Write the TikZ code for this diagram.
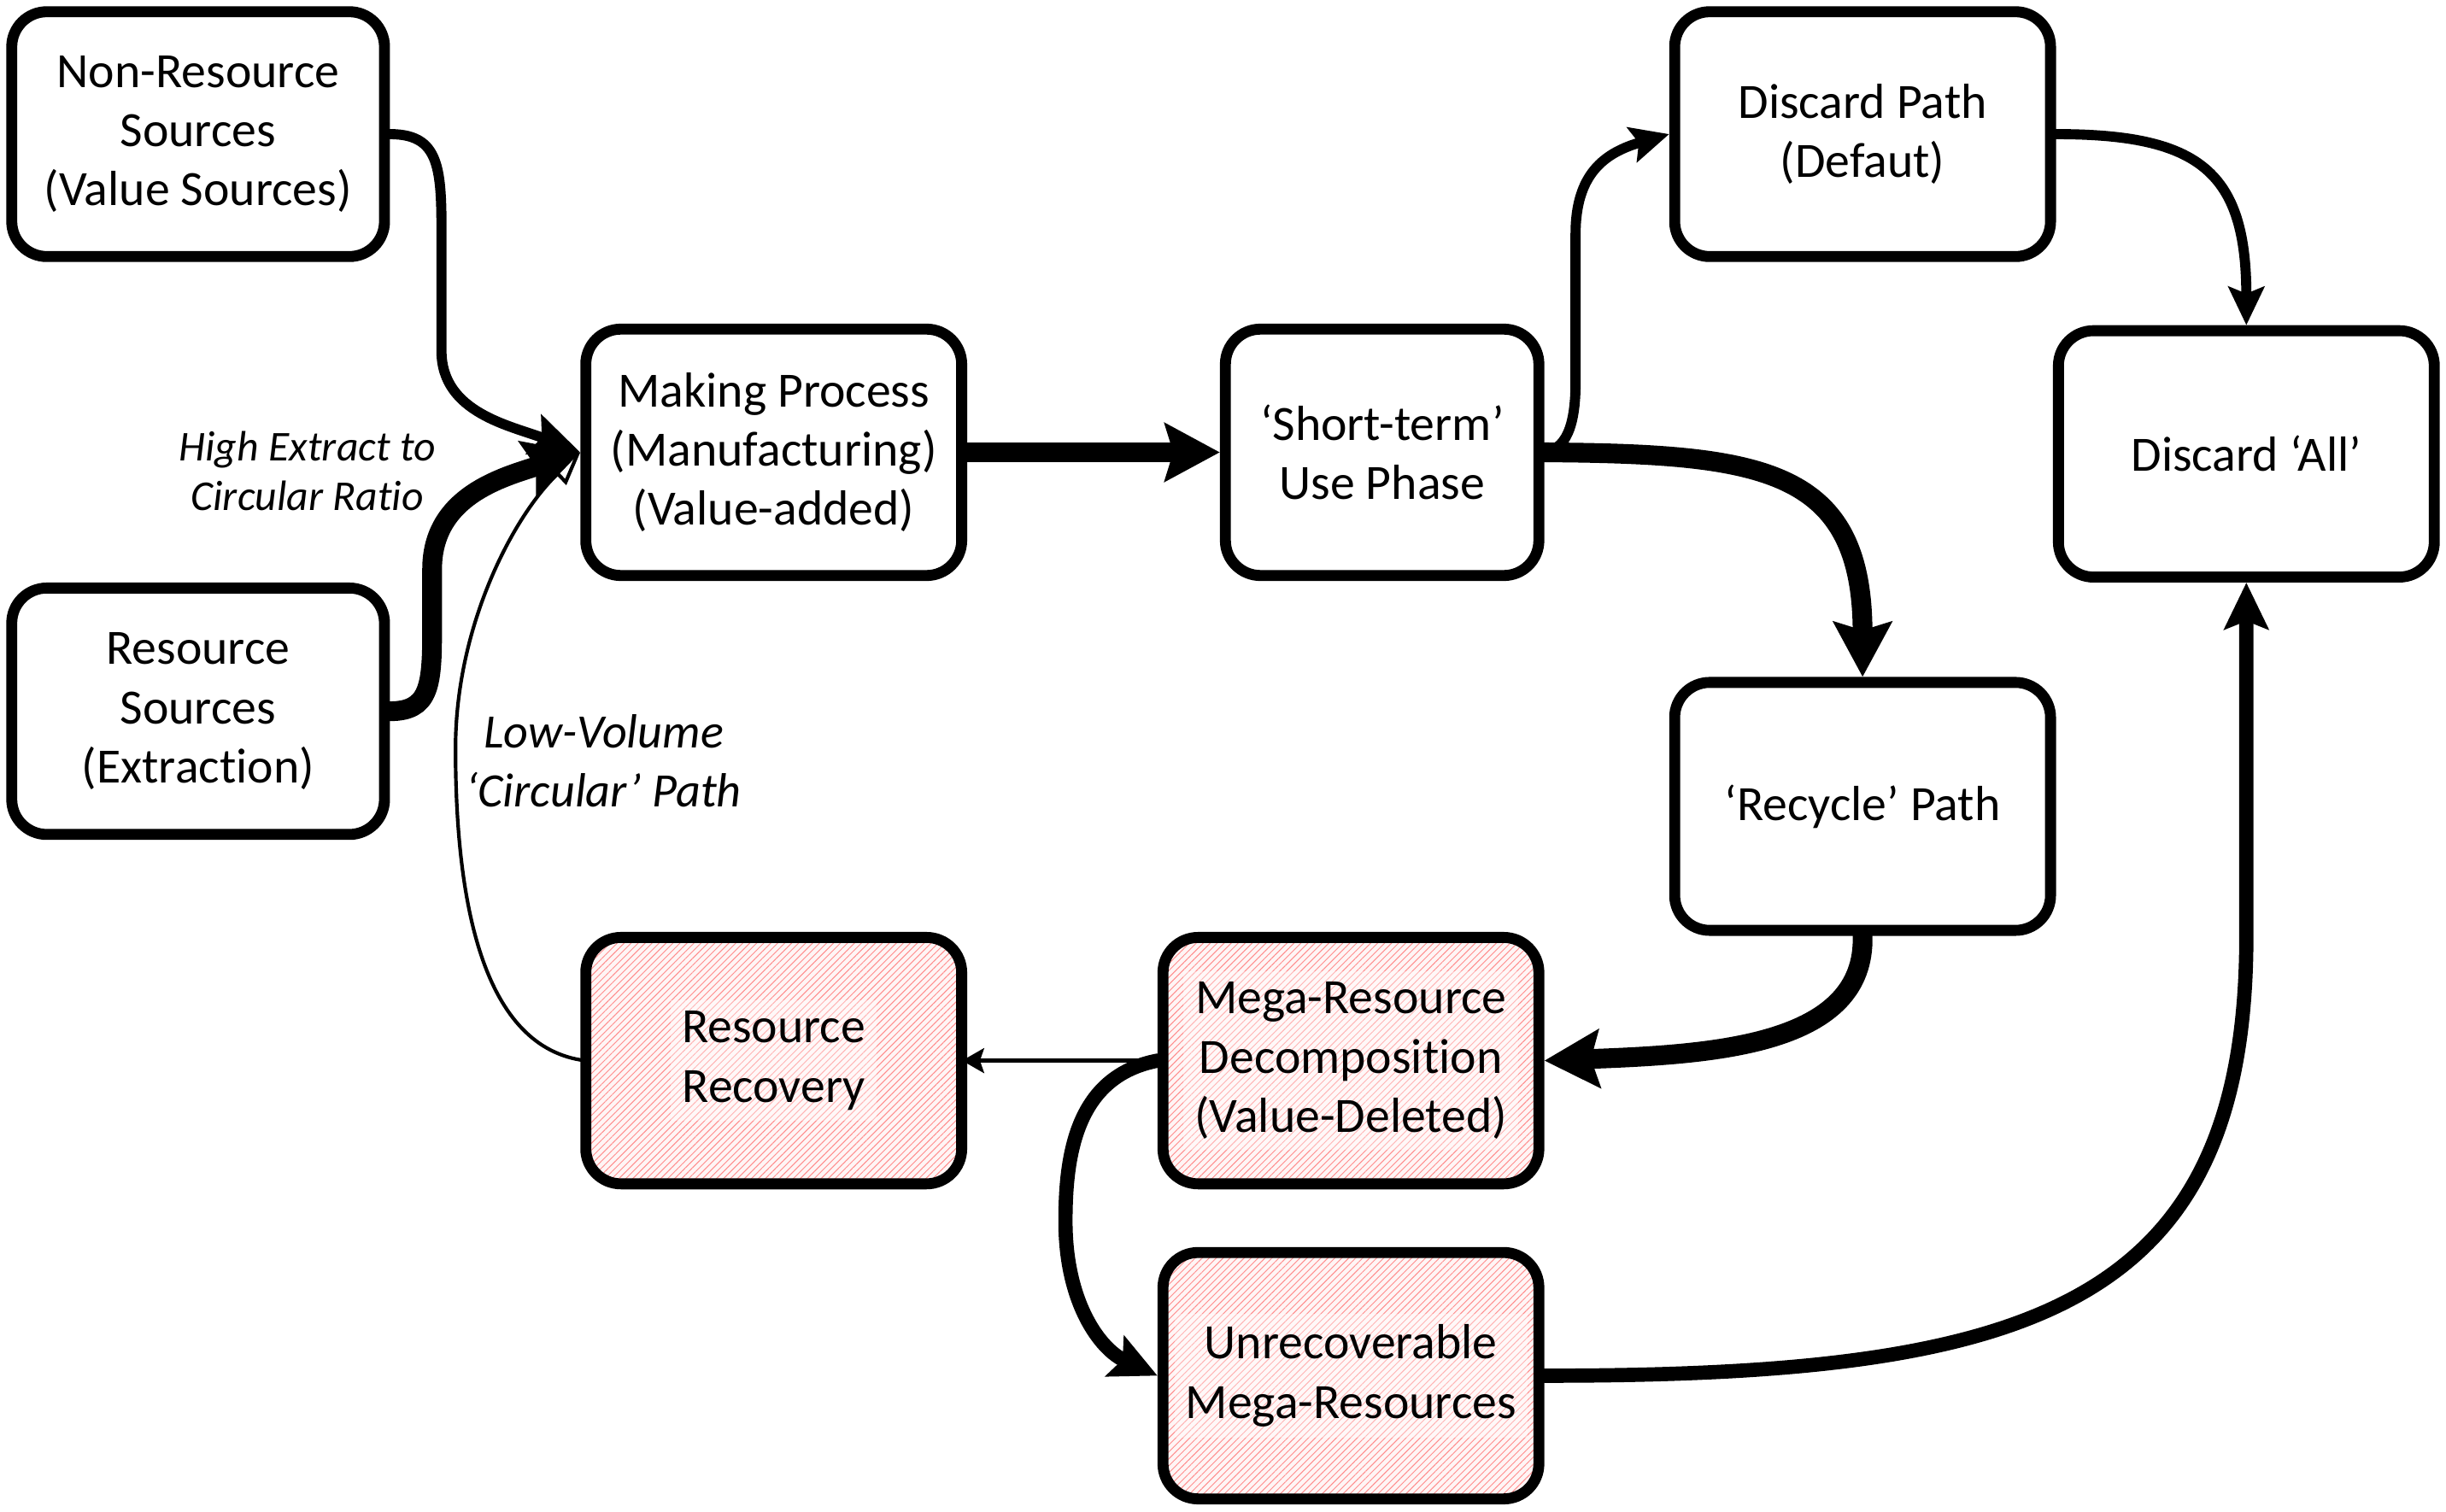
\documentclass[tikz,border=0pt]{standalone}
\usepackage{fontspec}
\setmainfont{Carlito}[Ligatures={NoCommon}]
\usetikzlibrary{arrows.meta,patterns.meta}
\begin{document}
\begin{tikzpicture}[x=0.02cm,y=-0.02cm,
  box/.style={draw=black, line width=4pt, rounded corners=0.45cm, align=center,
    inner sep=0pt, font=\fontsize{18}{21.6}\selectfont,
    minimum width=4.82cm, minimum height=3.16cm},
  hatchbox/.style={box, preaction={fill=red!4},
    pattern={Lines[angle=45,distance=1.8pt,line width=0.3pt]}, pattern color=red!45},
  hatchtext/.style={fill=white, fill opacity=0.35, text opacity=1, inner sep=4pt,
    align=center, font=\fontsize{18}{21.6}\selectfont},
  lbl/.style={align=center, font=\itshape},
  con/.style={draw=black, line cap=round},
  wthick/.style={con, line width=7.2pt},
  wmid/.style={con, line width=5.2pt},
  wnorm/.style={con, line width=3.7pt},
  wthin/.style={con, line width=1.5pt},
  wfine/.style={con, line width=1.3pt},
  bigtip/.style={-{Stealth[length=20pt,width=21pt,inset=3pt]}},
  midtip/.style={-{Stealth[length=17pt,width=16pt,inset=3pt]}},
  normtip/.style={-{Stealth[length=14pt,width=13pt,inset=2.5pt]}},
  nrtip/.style={-{Stealth[length=18pt,width=15pt,inset=3pt]}},
  thintip/.style={-{Stealth[length=8pt,width=9pt,inset=1.5pt]}},
  opentip/.style={-{Triangle[open,length=12pt,width=10pt]}}
]
\fill[white] (0,0) rectangle (1568,969);
\useasboundingbox (0,0) rectangle (1568,969);

% nodes
\node[box, minimum width=4.78cm, minimum height=3.14cm] (nr) at (127,86) {Non-Resource\\Sources\\(Value Sources)};
\node[box, minimum width=4.78cm] (rs) at (127,456) {Resource\\Sources\\(Extraction)};
\node[box] (ms) at (496,290) {Making Process\\(Manufacturing)\\(Value-added)};
\node[box, minimum width=4.02cm] (st) at (886,290) {‘Short-term’\\Use Phase};
\node[box, minimum height=3.14cm] (dp) at (1194,86) {Discard Path\\(Defaut)};
\node[box] (da) at (1440,291) {Discard ‘All’};
\node[box, minimum height=3.18cm] (rc) at (1194,517) {‘Recycle’ Path};

\node[hatchbox] (rr) at (496,680) {};
\node[hatchtext] (rrt) at (rr.center) {Resource\\Recovery};
\node[hatchbox] (mg) at (866,680) {};
\node[hatchtext] (mgt) at (mg.center) {Mega-Resource\\Decomposition\\(Value-Deleted)};
\node[hatchbox] (ur) at (866,882) {};
\node[hatchtext] (urt) at (ur.center) {Unrecoverable\\Mega-Resources};

% labels
\node[lbl, font=\itshape\fontsize{15.5}{18.2}\selectfont] (l1) at (197,302) {High Extract to\\Circular Ratio};
\node[lbl, font=\itshape\fontsize{17.5}{21.6}\selectfont] (l2) at (387,488) {Low-Volume\\‘Circular’ Path};

% connectors
\draw[wnorm, nrtip] (nr.east) .. controls (285,86) and (283,112) .. (283,165)
  -- (283,225) .. controls (283,265) and (328,273) .. (ms.west);
\draw[wthick, bigtip] (rs.east) .. controls (275,456) and (277,440) .. (277,405)
  -- (277,365) .. controls (277,318) and (322,306) .. (ms.west);
\draw[wfine, opentip] (rr.west) .. controls (310,672) and (292,580) .. (292,480)
  .. controls (292,400) and (330,330) .. (ms.west);
\draw[wthick, bigtip] (ms.east) -- (st.west);
\draw[wnorm, normtip] (st.east) .. controls (1003,288) and (1010,275) .. (1010,245)
  -- (1010,150) .. controls (1010,112) and (1028,98) .. (dp.west);
\draw[wthick, bigtip] (st.east) .. controls (1130,291) and (1194,300) .. (rc.north);
\draw[wnorm, normtip] (dp.east) .. controls (1410,86) and (1440,110) .. (da.north);
\draw[wthick, bigtip] (rc.south) .. controls (1196,670) and (1100,676) .. (mg.east);
\draw[wthin, thintip] (mg.west) -- (rr.east);
\draw[wmid, midtip] (mg.west) .. controls (690,690) and (683,740) .. (683,783)
  .. controls (683,835) and (705,865) .. (ur.west);
\draw[wmid, midtip] (ur.east) .. controls (1300,882) and (1440,840) .. (1440,600)
  -- (da.south);
\end{tikzpicture}
\end{document}
